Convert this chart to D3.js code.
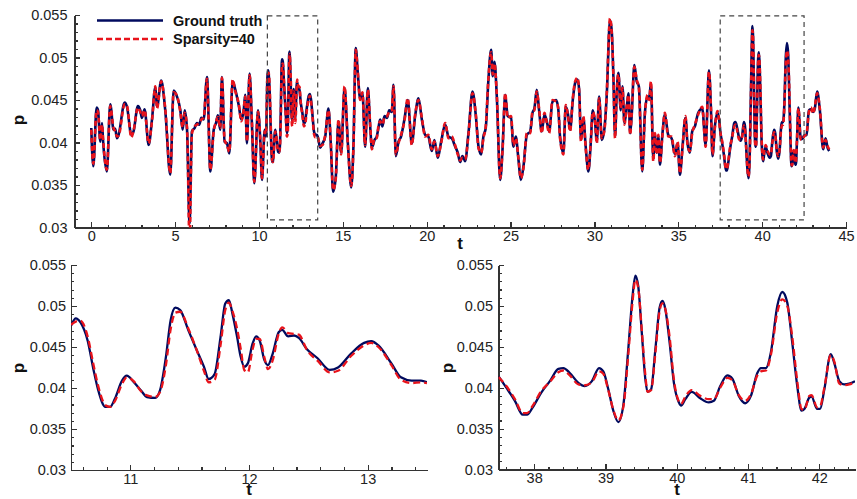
<!DOCTYPE html>
<html lang="en">
<head>
<meta charset="UTF-8">
<script src="https://d3js.org/d3.v7.min.js"></script>
<title>Ground truth vs sparsity</title>
<style>
  body { margin: 0; background: #fff; }
  svg { font-family: "Liberation Sans", Arial, Helvetica, sans-serif; }
  .axis path, .axis line { stroke: #333; stroke-width: 1.2; shape-rendering: crispEdges; }
  .axis text { font-size: 14.5px; fill: #222; }
  .title { font-size: 17px; font-weight: bold; fill: #111; }
  .legend text { font-size: 14.5px; font-weight: bold; fill: #111; }
</style>
</head>
<body>
<script>
// rows are [t, ground truth, sparsity=40]
// full record, before the first zoom window
var segA = [
  [0,0.0417,0.0415],[0.12,0.0372,0.0375],[0.32,0.0441,0.0438],[0.4,0.0438,0.0436],
  [0.54,0.0401,0.0403],[0.64,0.0423,0.0421],[0.7,0.0403,0.0405],[0.93,0.0366,0.0368],
  [1.13,0.0445,0.0443],[1.33,0.0415,0.0417],[1.43,0.0416,0.0413],[1.53,0.0405,0.0407],
  [1.63,0.0409,0.0408],[1.99,0.0447,0.0445],[2.13,0.0442,0.0443],[2.39,0.0409,0.0406],
  [2.52,0.0413,0.0414],[2.78,0.0443,0.0441],[2.92,0.0438,0.0436],[3.02,0.0429,0.0431],
  [3.18,0.0439,0.0438],[3.42,0.0397,0.0399],[3.62,0.0427,0.0425],[3.82,0.0465,0.0466],
  [3.92,0.0442,0.0440],[4.17,0.0473,0.0472],[4.41,0.0438,0.0440],[4.71,0.0362,0.0364],
  [4.91,0.0461,0.0459],[5.11,0.0454,0.0455],[5.31,0.0438,0.0436],[5.45,0.0415,0.0418],
  [5.57,0.0438,0.0435],[5.71,0.0415,0.0417],[5.86,0.0305,0.0284],[6.0,0.0413,0.0410],
  [6.16,0.0417,0.0419],[6.3,0.0423,0.0421],[6.44,0.0421,0.0423],[6.56,0.0429,0.0427],
  [6.7,0.0427,0.0429],[6.9,0.0477,0.0475],[7.1,0.0366,0.0368],[7.3,0.0415,0.0413],
  [7.44,0.0423,0.0425],[7.55,0.0432,0.0430],[7.69,0.0415,0.0417],[7.79,0.0477,0.0476],
  [7.95,0.0401,0.0403],[8.09,0.0399,0.0397],[8.23,0.0387,0.0389],[8.43,0.0472,0.0474],
  [8.59,0.0462,0.0460],[8.79,0.0444,0.0446],[8.95,0.0427,0.0425],[9.09,0.0438,0.0439],
  [9.18,0.0456,0.0454],[9.28,0.0399,0.0401],[9.44,0.0481,0.0479],[9.58,0.0421,0.0423],
  [9.72,0.0352,0.0354],[9.94,0.0438,0.0436],[10.08,0.0401,0.0403],[10.18,0.0356,0.0358],
  [10.34,0.0415,0.0413],[10.42,0.0407,0.0410]
];

// first zoom window, 10.5 - 13.5
var zoomLeft = [
  [10.5,0.0476,0.0477],[10.54,0.0485,0.0481],[10.58,0.0480,0.0482],[10.64,0.0458,0.0463],
  [10.69,0.0422,0.0428],[10.73,0.0397,0.0402],[10.79,0.0377,0.0379],[10.83,0.0377,0.0377],
  [10.87,0.0387,0.0384],[10.93,0.0409,0.0405],[10.97,0.0415,0.0413],[11.03,0.0407,0.0408],
  [11.09,0.0397,0.0396],[11.14,0.0389,0.0391],[11.21,0.0388,0.0389],[11.25,0.0397,0.0395],
  [11.3,0.0438,0.0428],[11.34,0.0483,0.0472],[11.38,0.0498,0.0492],[11.42,0.0495,0.0493],
  [11.49,0.0470,0.0472],[11.56,0.0446,0.0446],[11.62,0.0426,0.0421],[11.66,0.0411,0.0407],
  [11.71,0.0417,0.0410],[11.76,0.0462,0.0452],[11.8,0.0503,0.0495],[11.83,0.0507,0.0504],
  [11.86,0.0491,0.0494],[11.9,0.0462,0.0472],[11.93,0.0438,0.0448],[11.96,0.0426,0.0422],
  [11.99,0.0430,0.0419],[12.03,0.0454,0.0447],[12.06,0.0463,0.0460],[12.09,0.0458,0.0460],
  [12.13,0.0434,0.0437],[12.16,0.0428,0.0423],[12.2,0.0442,0.0434],[12.25,0.0468,0.0466],
  [12.28,0.0471,0.0474],[12.33,0.0463,0.0467],[12.38,0.0464,0.0466],[12.42,0.0461,0.0465],
  [12.49,0.0447,0.0446],[12.58,0.0436,0.0433],[12.68,0.0422,0.0419],[12.75,0.0425,0.0421],
  [12.86,0.0442,0.0439],[12.97,0.0455,0.0452],[13.03,0.0457,0.0455],[13.09,0.0452,0.0450],
  [13.2,0.0430,0.0428],[13.28,0.0413,0.0410],[13.37,0.0409,0.0406],[13.45,0.0409,0.0407],
  [13.5,0.0407,0.0406]
];

// between the two zoom windows
var segC = [
  [13.65,0.0394,0.0396],[13.79,0.0399,0.0397],[13.95,0.0407,0.0409],[14.14,0.0440,0.0438],
  [14.28,0.0399,0.0401],[14.42,0.0342,0.0344],[14.58,0.0360,0.0358],[14.74,0.0425,0.0427],
  [14.9,0.0388,0.0386],[15.1,0.0464,0.0466],[15.3,0.0399,0.0397],[15.5,0.0347,0.0349],
  [15.63,0.0395,0.0393],[15.77,0.0511,0.0509],[15.89,0.0482,0.0484],[16.03,0.0452,0.0450],
  [16.17,0.0458,0.0459],[16.33,0.0395,0.0397],[16.49,0.0464,0.0462],[16.63,0.0419,0.0421],
  [16.73,0.0394,0.0392],[16.89,0.0403,0.0405],[17.02,0.0407,0.0405],[17.12,0.0417,0.0419],
  [17.22,0.0427,0.0425],[17.36,0.0419,0.0421],[17.48,0.0431,0.0429],[17.64,0.0429,0.0431],
  [17.76,0.0438,0.0436],[17.92,0.0436,0.0438],[18.02,0.0468,0.0466],[18.16,0.0384,0.0386],
  [18.32,0.0401,0.0399],[18.47,0.0407,0.0409],[18.67,0.0427,0.0425],[18.87,0.0450,0.0452],
  [19.11,0.0399,0.0397],[19.31,0.0431,0.0433],[19.51,0.0452,0.0450],[19.71,0.0427,0.0429],
  [19.91,0.0409,0.0407],[20.1,0.0407,0.0409],[20.3,0.0390,0.0392],[20.46,0.0403,0.0401],
  [20.66,0.0382,0.0384],[20.86,0.0401,0.0399],[21.1,0.0421,0.0423],[21.3,0.0407,0.0405],
  [21.5,0.0405,0.0407],[21.66,0.0397,0.0399],[21.85,0.0388,0.0386],[21.99,0.0377,0.0379],
  [22.13,0.0384,0.0382],[22.29,0.0378,0.0380],[22.49,0.0411,0.0409],[22.73,0.0460,0.0458],
  [22.93,0.0431,0.0433],[23.09,0.0395,0.0393],[23.25,0.0386,0.0388],[23.38,0.0407,0.0405],
  [23.52,0.0417,0.0419],[23.68,0.0474,0.0476],[23.84,0.0509,0.0506],[23.94,0.0478,0.0480],
  [24.04,0.0495,0.0493],[24.18,0.0454,0.0456],[24.38,0.0356,0.0358],[24.52,0.0392,0.0390],
  [24.68,0.0456,0.0458],[24.83,0.0431,0.0429],[25.03,0.0429,0.0431],[25.17,0.0395,0.0397],
  [25.31,0.0407,0.0405],[25.47,0.0380,0.0382],[25.61,0.0356,0.0358],[25.77,0.0372,0.0370],
  [25.97,0.0409,0.0411],[26.17,0.0413,0.0411],[26.31,0.0435,0.0437],[26.42,0.0440,0.0438],
  [26.56,0.0462,0.0460],[26.7,0.0438,0.0440],[26.86,0.0413,0.0411],[27.02,0.0433,0.0435],
  [27.16,0.0425,0.0423],[27.3,0.0413,0.0411],[27.5,0.0448,0.0450],[27.72,0.0450,0.0448],
  [27.85,0.0438,0.0440],[27.95,0.0407,0.0405],[28.15,0.0388,0.0386],[28.29,0.0442,0.0444],
  [28.41,0.0435,0.0433],[28.55,0.0415,0.0413],[28.71,0.0450,0.0452],[28.85,0.0470,0.0472],
  [28.99,0.0474,0.0476],[29.09,0.0462,0.0460],[29.2,0.0403,0.0401],[29.34,0.0429,0.0431],
  [29.48,0.0395,0.0393],[29.64,0.0366,0.0368],[29.78,0.0399,0.0401],[29.9,0.0438,0.0436],
  [30.04,0.0423,0.0425],[30.14,0.0401,0.0399],[30.28,0.0454,0.0452],[30.44,0.0403,0.0405],
  [30.6,0.0417,0.0415],[30.73,0.0454,0.0456],[30.93,0.0544,0.0546],[31.03,0.0532,0.0530],
  [31.13,0.0478,0.0480],[31.23,0.0407,0.0405],[31.33,0.0458,0.0460],[31.43,0.0482,0.0480],
  [31.57,0.0438,0.0440],[31.67,0.0466,0.0464],[31.79,0.0423,0.0421],[31.93,0.0442,0.0444],
  [32.03,0.0458,0.0456],[32.13,0.0411,0.0409],[32.22,0.0431,0.0433],[32.38,0.0491,0.0489],
  [32.52,0.0472,0.0474],[32.65,0.0466,0.0464],[32.85,0.0366,0.0368],[33.01,0.0435,0.0433],
  [33.17,0.0454,0.0456],[33.27,0.0452,0.0450],[33.37,0.0470,0.0472],[33.51,0.0380,0.0378],
  [33.61,0.0409,0.0411],[33.71,0.0388,0.0386],[33.81,0.0407,0.0409],[33.91,0.0374,0.0376],
  [34.05,0.0409,0.0407],[34.2,0.0433,0.0435],[34.4,0.0409,0.0407],[34.6,0.0405,0.0407],
  [34.8,0.0386,0.0384],[34.96,0.0399,0.0401],[35.1,0.0362,0.0364],[35.24,0.0392,0.0390],
  [35.43,0.0429,0.0431],[35.55,0.0399,0.0397],[35.69,0.0388,0.0390],[35.83,0.0413,0.0411],
  [35.99,0.0419,0.0421],[36.19,0.0435,0.0433],[36.43,0.0440,0.0442],[36.63,0.0397,0.0395],
  [36.83,0.0485,0.0483],[36.95,0.0438,0.0440],[37.04,0.0384,0.0386],[37.18,0.0419,0.0417],
  [37.34,0.0435,0.0437],[37.46,0.0423,0.0421]
];

// second zoom window, 37.5 - 42.5
var zoomRight = [
  [37.5,0.0414,0.0413],[37.61,0.0400,0.0402],[37.73,0.0384,0.0386],[37.84,0.0367,0.0369],
  [37.9,0.0367,0.0369],[37.98,0.0376,0.0378],[38.1,0.0394,0.0396],[38.22,0.0408,0.0407],
  [38.34,0.0423,0.0419],[38.41,0.0424,0.0421],[38.5,0.0418,0.0415],[38.62,0.0406,0.0404],
  [38.71,0.0402,0.0403],[38.81,0.0408,0.0407],[38.91,0.0424,0.0420],[38.97,0.0420,0.0417],
  [39.04,0.0398,0.0397],[39.11,0.0372,0.0373],[39.18,0.0358,0.0360],[39.25,0.0378,0.0376],
  [39.32,0.0447,0.0440],[39.38,0.0512,0.0505],[39.42,0.0537,0.0532],[39.46,0.0524,0.0522],
  [39.51,0.0467,0.0470],[39.56,0.0410,0.0415],[39.59,0.0395,0.0395],[39.64,0.0398,0.0397],
  [39.7,0.0447,0.0442],[39.76,0.0498,0.0494],[39.8,0.0506,0.0503],[39.84,0.0496,0.0496],
  [39.9,0.0455,0.0462],[39.96,0.0406,0.0410],[40.03,0.0382,0.0383],[40.06,0.0378,0.0380],
  [40.12,0.0386,0.0389],[40.21,0.0395,0.0397],[40.33,0.0387,0.0390],[40.45,0.0382,0.0386],
  [40.52,0.0384,0.0386],[40.61,0.0402,0.0400],[40.71,0.0415,0.0412],[40.78,0.0411,0.0409],
  [40.87,0.0390,0.0391],[40.96,0.0381,0.0384],[41.04,0.0390,0.0392],[41.13,0.0418,0.0415],
  [41.18,0.0424,0.0420],[41.25,0.0424,0.0421],[41.32,0.0443,0.0440],[41.41,0.0500,0.0492],
  [41.48,0.0517,0.0508],[41.55,0.0504,0.0500],[41.62,0.0455,0.0462],[41.69,0.0402,0.0408],
  [41.75,0.0372,0.0374],[41.79,0.0374,0.0373],[41.86,0.0388,0.0390],[41.89,0.0389,0.0391],
  [41.97,0.0374,0.0376],[42.01,0.0374,0.0377],[42.07,0.0398,0.0400],[42.16,0.0441,0.0440],
  [42.21,0.0430,0.0432],[42.28,0.0408,0.0405],[42.35,0.0404,0.0403],[42.42,0.0405,0.0404],
  [42.5,0.0408,0.0407]
];

// tail of the record
var segE = [
  [42.65,0.0409,0.0411],[42.79,0.0438,0.0436],[42.91,0.0439,0.0441],[43.04,0.0436,0.0434],
  [43.14,0.0440,0.0442],[43.28,0.0460,0.0458],[43.44,0.0438,0.0440],[43.64,0.0392,0.0394],
  [43.78,0.0405,0.0403],[43.9,0.0394,0.0396],[44.0,0.0390,0.0392]
];

var seriesNames = ["Ground truth", "Sparsity=40"];
var pTicks = [0.03, 0.035, 0.04, 0.045, 0.05, 0.055];
var pTickLabels = ["0.03", "0.035", "0.04", "0.045", "0.05", "0.055"];
var tTicksTop = [0, 5, 10, 15, 20, 25, 30, 35, 40, 45];
var tTicksLeft = [11, 12, 13];
var tTicksRight = [38, 39, 40, 41, 42];
// zoom windows drawn on the full record: [t0, t1, p0, p1]
var zoomBoxes = [[10.5, 13.5, 0.0309, 0.0549], [37.5, 42.5, 0.0309, 0.0549]];

var blue = "#000a5e", red = "#e8131b";

var svg = d3.select("body").append("svg")
    .attr("width", 857)
    .attr("height", 499);

var pFormat = function(d) { return pTickLabels[pTicks.indexOf(d)]; };
var tFormat = function(d) { return String(d); };

function drawPanel(cfg) {
  var x = d3.scaleLinear().domain(cfg.tDomain).range(cfg.xRange),
      y = d3.scaleLinear().domain([0.03, 0.055]).range(cfg.yRange);

  var g = svg.append("g");

  // clip the curves to the plot box
  g.append("clipPath").attr("id", cfg.id)
    .append("rect")
    .attr("x", cfg.xRange[0]).attr("y", cfg.yRange[1])
    .attr("width", cfg.xRange[1] - cfg.xRange[0])
    .attr("height", cfg.yRange[0] - cfg.yRange[1]);

  // minor ticks (inward)
  g.append("g")
    .attr("class", "axis minor")
    .attr("transform", "translate(0," + cfg.yRange[0] + ")")
    .call(d3.axisBottom(x).tickValues(cfg.tMinor).tickSize(-3).tickFormat(""))
    .select(".domain").remove();
  g.append("g")
    .attr("class", "axis minor")
    .attr("transform", "translate(" + cfg.xRange[0] + ",0)")
    .call(d3.axisLeft(y).tickValues(d3.range(0.031, 0.055, 0.001)).tickSize(-3).tickFormat(""))
    .select(".domain").remove();

  // major axes
  g.append("g")
    .attr("class", "axis")
    .attr("transform", "translate(0," + cfg.yRange[0] + ")")
    .call(d3.axisBottom(x).tickValues(cfg.tTicks).tickFormat(tFormat)
      .tickSizeInner(-5.5).tickSizeOuter(0).tickPadding(3.5));
  g.append("g")
    .attr("class", "axis")
    .attr("transform", "translate(" + cfg.xRange[0] + ",0)")
    .call(d3.axisLeft(y).tickValues(pTicks).tickFormat(pFormat)
      .tickSizeInner(-5.5).tickSizeOuter(0).tickPadding(cfg.yPad));

  // curves
  var line = function(k) {
    return d3.line()
      .curve(d3.curveMonotoneX)
      .x(function(d) { return x(d[0]); })
      .y(function(d) { return y(d[k]); });
  };
  var curves = g.append("g").attr("clip-path", "url(#" + cfg.id + ")");
  curves.append("path")
    .datum(cfg.data)
    .attr("fill", "none")
    .attr("stroke", blue)
    .attr("stroke-width", cfg.width)
    .attr("stroke-linejoin", "round")
    .attr("d", line(1));
  curves.append("path")
    .datum(cfg.data)
    .attr("fill", "none")
    .attr("stroke", red)
    .attr("stroke-width", cfg.width)
    .attr("stroke-dasharray", cfg.dash)
    .attr("d", line(2));

  // axis titles
  g.append("text")
    .attr("class", "title")
    .attr("x", cfg.tLabel[0]).attr("y", cfg.tLabel[1])
    .style("text-anchor", "middle")
    .text("t");
  g.append("text")
    .attr("class", "title")
    .attr("transform", "translate(" + cfg.pLabel[0] + "," + cfg.pLabel[1] + ") rotate(-90)")
    .style("text-anchor", "middle")
    .text("p");

  return {x: x, y: y, g: g};
}

// full record on top, built from the segments
var fullRecord = segA.concat(zoomLeft, segC, zoomRight, segE);

var topPanel = drawPanel({
  id: "clipTop", data: fullRecord,
  tDomain: [-1, 45], xRange: [74.5, 846], yRange: [227.5, 15],
  tTicks: tTicksTop, tMinor: d3.range(-1, 45, 1).filter(function(d) { return d % 5 !== 0; }),
  yPad: 7, width: 2.6, dash: "5,3",
  tLabel: [460, 249], pLabel: [24, 120]
});

var leftPanel = drawPanel({
  id: "clipLeft", data: zoomLeft,
  tDomain: [10.5, 13.5], xRange: [71, 427], yRange: [470, 265],
  tTicks: tTicksLeft, tMinor: [10.6, 10.8, 11.2, 11.4, 11.6, 11.8, 12.2, 12.4, 12.6, 12.8, 13.2, 13.4],
  yPad: 5, width: 2.3, dash: "7,4",
  tLabel: [249, 495], pLabel: [24, 368]
});

var rightPanel = drawPanel({
  id: "clipRight", data: zoomRight,
  tDomain: [37.5, 42.5], xRange: [498.5, 855], yRange: [469.5, 265],
  tTicks: tTicksRight, tMinor: [37.6, 37.8, 38.2, 38.4, 38.6, 38.8, 39.2, 39.4, 39.6, 39.8, 40.2, 40.4, 40.6, 40.8, 41.2, 41.4, 41.6, 41.8, 42.2, 42.4],
  yPad: 5.5, width: 2.3, dash: "7,4",
  tLabel: [677, 495], pLabel: [453, 368]
});

// dashed zoom windows on the top panel
topPanel.g.selectAll(".zoombox")
    .data(zoomBoxes)
  .enter().append("rect")
    .attr("class", "zoombox")
    .attr("x", function(d) { return topPanel.x(d[0]); })
    .attr("y", function(d) { return topPanel.y(d[3]); })
    .attr("width", function(d) { return topPanel.x(d[1]) - topPanel.x(d[0]); })
    .attr("height", function(d) { return topPanel.y(d[2]) - topPanel.y(d[3]); })
    .attr("fill", "none")
    .attr("stroke", "#444")
    .attr("stroke-width", 1.2)
    .attr("stroke-dasharray", "5,4");

// legend
var legend = svg.selectAll(".legend")
    .data(seriesNames)
  .enter().append("g")
    .attr("class", "legend")
    .attr("transform", function(d, i) { return "translate(97," + (20.5 + i * 18.5) + ")"; });

legend.append("line")
    .attr("x1", 0).attr("x2", 66)
    .attr("stroke", function(d, i) { return i === 0 ? blue : red; })
    .attr("stroke-width", 2.6)
    .attr("stroke-dasharray", function(d, i) { return i === 0 ? null : "6,3"; });

legend.append("text")
    .attr("x", 76)
    .attr("y", 5)
    .text(function(d) { return d; });
</script>
</body>
</html>
